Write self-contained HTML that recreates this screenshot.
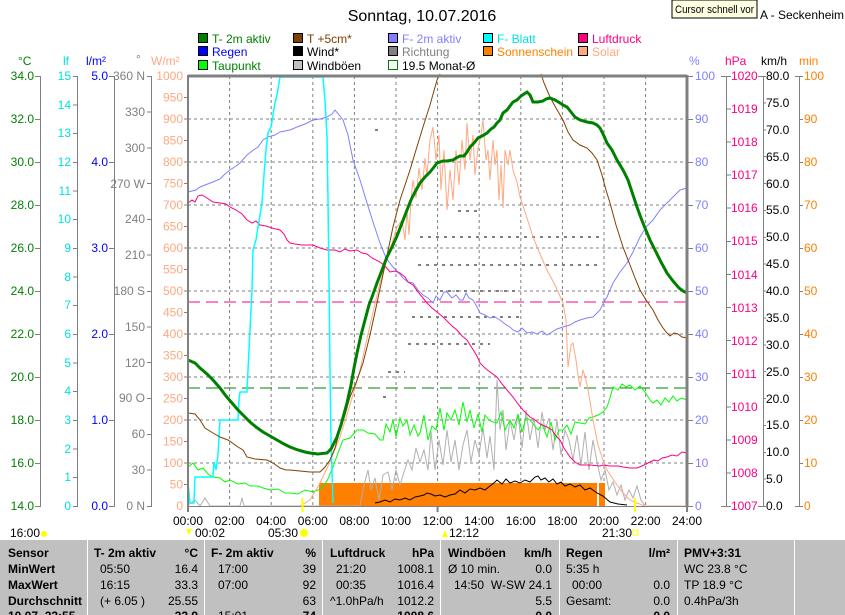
<!DOCTYPE html>
<html><head><meta charset="utf-8"><style>
body{margin:0;background:#fff;width:845px;height:615px;overflow:hidden;font-family:"Liberation Sans",sans-serif}
svg{display:block}
</style></head><body>
<svg width="845" height="615" viewBox="0 0 845 615" font-family="Liberation Sans, sans-serif">
<rect width="845" height="615" fill="#fff"/>
<text x="422" y="21" font-size="16" text-anchor="middle" fill="#000">Sonntag, 10.07.2016</text>
<text x="760" y="19" font-size="12" fill="#000">A - Seckenheim</text>
<rect x="672" y="0" width="85" height="18" fill="#ffffe1" stroke="#000" stroke-width="1"/>
<text x="675" y="13" font-size="11" fill="#000" textLength="79" lengthAdjust="spacingAndGlyphs">Cursor schnell vor</text>

<!-- legend -->
<g font-size="12">
<rect x="198.5" y="33.5" width="9" height="9" fill="#008000" stroke="#000"/><text x="212" y="43" fill="#008000">T- 2m aktiv</text>
<rect x="198.5" y="46.5" width="9" height="9" fill="#0000ff" stroke="#000"/><text x="212" y="56" fill="#0000ff">Regen</text>
<rect x="198.5" y="60.5" width="9" height="9" fill="#00ff00" stroke="#000"/><text x="212" y="70" fill="#008000">Taupunkt</text>
<rect x="293.5" y="33.5" width="9" height="9" fill="#804000" stroke="#000"/><text x="307" y="43" fill="#804000">T +5cm*</text>
<rect x="293.5" y="46.5" width="9" height="9" fill="#000" stroke="#000"/><text x="307" y="56" fill="#000">Wind*</text>
<rect x="293.5" y="60.5" width="9" height="9" fill="#c0c0c0" stroke="#000"/><text x="307" y="70" fill="#000">Windböen</text>
<rect x="388.5" y="33.5" width="9" height="9" fill="#8080ff" stroke="#000"/><text x="402" y="43" fill="#8080ff">F- 2m aktiv</text>
<rect x="388.5" y="46.5" width="9" height="9" fill="#808080" stroke="#000"/><text x="402" y="56" fill="#808080">Richtung</text>
<rect x="388.5" y="60.5" width="9" height="9" fill="#fff" stroke="#008000"/><text x="402" y="70" fill="#000">19.5 Monat-Ø</text>
<rect x="483.5" y="33.5" width="9" height="9" fill="#00ffff" stroke="#000"/><text x="497" y="43" fill="#00e0e0">F- Blatt</text>
<rect x="483.5" y="46.5" width="9" height="9" fill="#ff8000" stroke="#000"/><text x="497" y="56" fill="#ff8000">Sonnenschein</text>
<rect x="578.5" y="33.5" width="9" height="9" fill="#ff0080" stroke="#000"/><text x="592" y="43" fill="#ff0080">Luftdruck</text>
<rect x="578.5" y="46.5" width="9" height="9" fill="#ffa880" stroke="#000"/><text x="592" y="56" fill="#ffa880">Solar</text>
</g>

<!-- axis titles -->
<g font-size="12">
<text x="18" y="65" fill="#008000">°C</text>
<text x="63" y="65" fill="#00e0e0">lf</text>
<text x="86" y="65" fill="#0000ff">l/m²</text>
<text x="136" y="63" fill="#808080">°</text>
<text x="151" y="65" fill="#ffa880">W/m²</text>
<text x="689" y="65" fill="#8080ff">%</text>
<text x="725" y="65" fill="#ff0080">hPa</text>
<text x="761" y="65" fill="#000">km/h</text>
<text x="799" y="65" fill="#ff8000">min</text>
</g>

<!-- grid -->
<g stroke="#808080" stroke-width="1" stroke-dasharray="3,3">
<line x1="229.6" y1="76" x2="229.6" y2="506"/><line x1="271.2" y1="76" x2="271.2" y2="506"/><line x1="312.8" y1="76" x2="312.8" y2="506"/><line x1="354.4" y1="76" x2="354.4" y2="506"/><line x1="396" y1="76" x2="396" y2="506"/><line x1="437.6" y1="76" x2="437.6" y2="506"/><line x1="479.2" y1="76" x2="479.2" y2="506"/><line x1="520.8" y1="76" x2="520.8" y2="506"/><line x1="562.4" y1="76" x2="562.4" y2="506"/><line x1="604" y1="76" x2="604" y2="506"/><line x1="645.6" y1="76" x2="645.6" y2="506"/>
<line x1="188" y1="119" x2="687" y2="119"/><line x1="188" y1="162" x2="687" y2="162"/><line x1="188" y1="205" x2="687" y2="205"/><line x1="188" y1="248" x2="687" y2="248"/><line x1="188" y1="291" x2="687" y2="291"/><line x1="188" y1="334" x2="687" y2="334"/><line x1="188" y1="377" x2="687" y2="377"/><line x1="188" y1="420" x2="687" y2="420"/><line x1="188" y1="463" x2="687" y2="463"/>
</g>

<!-- direction dots -->
<g stroke="#808080" stroke-width="2" stroke-dasharray="3,5">
<line x1="375" y1="130" x2="378" y2="130"/>
<line x1="458" y1="211" x2="480" y2="211"/>
<line x1="420" y1="237" x2="600" y2="237"/>
<line x1="418" y1="265" x2="600" y2="265"/>
<line x1="440" y1="291" x2="520" y2="291"/>
<line x1="412" y1="317" x2="520" y2="317"/>
<line x1="408" y1="344" x2="490" y2="344"/>
<line x1="388" y1="372" x2="405" y2="372"/>
<line x1="383" y1="397" x2="388" y2="397"/>
</g>

<!-- dashed means -->
<line x1="188" y1="302" x2="687" y2="302" stroke="#ff0080" stroke-dasharray="12,6"/>
<line x1="188" y1="388" x2="687" y2="388" stroke="#008000" stroke-dasharray="12,6"/>

<!-- sunshine -->
<rect x="319" y="483" width="278" height="23" fill="#ff8000"/>
<rect x="599" y="483" width="6" height="23" fill="#ff8000"/>

<!-- windböen grey -->
<polyline fill="none" stroke="#b0b0b0" stroke-width="1" points="188,505 195,500 200,506 205,498 210,506 240,506 242,498 244,506 360,506 364,485 368,470 371,490 375,478 379,500 383,475 388,472 392,490 396,470 400,485 404,472 408,460 412,470 416,448 420,462 424,450 428,470 431,432 435,470 439,440 443,465 447,430 451,462 455,440 459,470 463,445 467,430 471,462 475,440 479,455 483,428 487,458 490,436 494,470 497,380 500,430 503,410 506,450 510,420 514,440 518,415 522,448 526,410 530,440 534,418 538,448 542,412 545,430 549,418 553,450 557,420 561,455 565,430 569,440 573,460 577,435 581,465 585,432 589,470 593,440 597,462 601,480 605,470 609,490 613,482 617,495 621,485 625,500 629,490 633,498 637,486 641,500 645,506 687,506"/>

<!-- taupunkt -->
<polyline fill="none" stroke="#00ff00" stroke-width="1" points="188,467 193,463 198,470 203,468 208,474 213,477 220,478 225,482 230,480 238,484 245,483 250,486 258,486 263,488 270,490 278,489 285,493 290,493 298,494 305,490 313,492 318,490 323,487 328,479 333,467 338,453 343,440 350,438 357,430 363,430 368,433 375,434 380,440 383,440 386,424 390,432 393,420 396,437 400,418 403,426 407,420 410,435 414,425 418,436 420,433 424,415 428,440 432,426 436,430 440,408 444,430 447,413 451,420 455,410 459,425 463,402 467,422 470,410 474,428 478,414 482,432 485,415 489,420 493,422 497,423 501,412 505,430 510,420 514,428 518,414 522,432 526,418 530,420 534,425 538,430 542,424 547,437 551,422 555,440 559,430 563,430 567,425 571,434 575,422 580,423 585,424 589,418 593,417 598,415 603,412 607,407 610,398 613,387 618,390 622,384 626,387 630,385 635,390 640,386 645,392 647,395 650,400 653,403 657,400 661,405 665,398 669,402 673,396 677,401 681,398 687,400"/>

<!-- solar -->
<polyline fill="none" stroke="#ffa880" stroke-width="1" points="300,506 310,500 320,483 330,462 340,437 350,405 360,370 370,325 380,283 390,250 397,227 402,220 405,240 407,210 409,235 411,200 413,180 416,198 419,168 422,190 425,158 427,175 430,140 433,127 436,160 439,135 441,190 444,150 447,210 450,170 453,200 456,150 459,185 462,140 465,170 467,123 470,160 473,135 475,175 478,148 481,135 483,120 486,160 488,150 490,180 493,140 495,165 497,150 499,200 501,165 503,208 505,150 508,165 510,150 513,170 517,182 520,197 527,218 533,237 540,254 547,270 555,285 563,303 566,320 568,367 571,345 573,343 576,360 578,375 580,387 583,370 586,380 589,395 593,420 598,445 603,460 607,470 615,482 623,493 630,500 637,503 645,506 687,506"/>

<!-- wind black -->
<polyline fill="none" stroke="#000" stroke-width="1" points="375,503 380,502 385,500 390,502 395,499 400,500 405,498 410,500 415,497 420,496 424,495 427,493 431,494 435,496 440,495 445,497 450,495 455,494 460,490 465,493 470,489 475,490 480,488 485,490 490,486 495,482 497,480 502,484 506,479 510,483 515,481 520,483 525,480 530,482 535,477 538,476 541,480 545,478 549,482 553,479 557,484 561,482 565,486 570,484 575,487 580,485 585,490 590,488 597,493 603,496 610,502 618,504 627,505"/>

<!-- F-2m -->
<polyline fill="none" stroke="#8080ff" stroke-width="1" points="188,192 196,190 200,187 205,185 213,182 220,179 225,174 230,170 236,166 240,163 247,155 252,151 258,147 263,140 268,137 275,135 280,132 290,130 297,127 305,124 313,120 320,119 327,117 332,114 335,110 340,116 343,120 348,135 353,160 360,180 367,203 373,222 380,243 386,258 393,267 398,272 403,278 408,282 413,283 418,290 423,295 428,298 433,303 436,296 440,300 444,292 447,292 452,298 456,295 460,300 463,300 466,293 469,298 473,300 476,305 480,313 485,315 490,318 495,317 500,320 505,324 510,327 513,330 518,332 522,328 527,333 532,332 537,334 542,331 547,335 552,332 557,329 563,327 570,325 575,322 580,320 587,318 593,317 600,310 604,302 607,297 610,290 613,283 620,272 627,263 633,252 640,237 646,227 653,220 660,210 667,203 674,196 680,190 687,188"/>

<!-- luftdruck -->
<polyline fill="none" stroke="#ff0080" stroke-width="1" points="188,203 192,200 195,202 198,196 202,195 207,198 213,202 220,203 226,204 230,207 236,210 242,214 247,220 252,223 256,221 260,225 266,226 272,228 280,230 284,234 287,240 290,243 295,244 302,245 313,245 320,248 327,250 335,250 340,252 345,249 350,251 357,250 362,253 367,254 372,258 380,262 385,266 390,272 395,271 400,273 405,277 408,282 413,285 418,292 423,298 427,303 432,308 437,312 443,317 448,322 452,326 457,330 462,336 467,340 472,348 477,356 480,363 485,368 490,372 497,377 502,384 507,390 513,397 518,404 523,410 530,417 535,420 540,424 547,427 552,430 556,436 560,440 564,448 570,457 575,462 580,465 590,465 600,466 603,465 610,466 618,466 623,467 630,468 637,468 642,466 646,464 650,462 654,460 658,461 662,458 667,457 672,455 677,456 682,452 687,453"/>

<!-- cyan F-Blatt -->
<polyline fill="none" stroke="#00ffff" stroke-width="1.5" points="188,483 190,503 194,503 195,477 213,477 214,462 216,470 218,455 220,420 238,420 239,400 240,392 247,392 248,370 250,330 252,290 253,250 256,240 258,227 260,215 262,203 264,175 266,150 268,133 271,127 273,115 275,103 277,95 280,77 323,77 325,100 327,137 328,200 329,280 330,370 331,440 333,503"/>

<!-- T+5cm brown -->
<polyline fill="none" stroke="#804000" stroke-width="1" points="188,413 195,414 200,420 205,428 213,433 220,437 228,440 238,447 243,450 247,457 255,459 267,460 273,463 280,468 286,470 290,470 300,471 310,472 320,472 325,467 330,460 335,448 340,430 345,415 350,397 356,383 363,363 370,335 377,303 385,265 393,227 400,200 405,185 410,170 416,150 423,127 430,105 437,80 440,74"/>
<polyline fill="none" stroke="#804000" stroke-width="1" points="541,74 544,83 550,97 556,108 563,120 568,132 573,140 580,145 587,148 592,153 597,160 602,175 606,190 610,203 616,225 623,247 630,265 635,278 640,290 646,300 653,310 658,320 663,328 667,333 670,336 674,333 678,334 682,337 687,338"/>

<!-- T-2m dark green -->
<polyline fill="none" stroke="#008000" stroke-width="3" points="188,360 195,363 200,368 207,374 213,380 220,388 226,396 232,403 238,410 244,416 250,422 256,427 263,432 270,436 277,440 284,444 290,447 298,450 305,452 310,453 318,454 327,453 331,449 334,443 337,437 341,425 344,414 347,403 351,385 354,368 357,353 361,335 365,320 369,305 372,297 377,283 382,270 387,257 392,247 397,236 402,223 407,210 411,200 415,192 420,183 425,177 430,172 434,167 437,163 443,161 447,161 453,160 456,158 460,156 464,156 467,152 470,147 474,143 478,138 482,136 487,133 491,129 494,127 497,123 500,120 503,113 507,110 510,106 513,102 517,100 521,96 524,94 527,92 530,95 533,102 538,102 543,101 546,99 550,98 555,100 560,103 563,105 567,107 571,112 575,117 580,120 587,122 593,123 597,125 600,128 604,136 607,143 612,150 617,160 623,170 628,180 633,195 637,207 641,218 645,228 650,240 656,252 661,262 667,273 673,281 679,288 683,291 687,293"/>

<!-- plot frame -->
<line x1="188" y1="76" x2="687" y2="76" stroke="#808080" stroke-width="3"/>
<line x1="188" y1="75" x2="188" y2="507" stroke="#808080" stroke-width="2"/>
<line x1="687" y1="75" x2="687" y2="507" stroke="#808080" stroke-width="3"/>
<line x1="188" y1="506.5" x2="687" y2="506.5" stroke="#808080" stroke-width="1"/>

<!-- axis lines -->
<g stroke="#808080" stroke-width="1">
<line x1="40.5" y1="76" x2="40.5" y2="506"/>
<line x1="77.5" y1="76" x2="77.5" y2="506"/>
<line x1="114.5" y1="76" x2="114.5" y2="506"/>
<line x1="151.5" y1="76" x2="151.5" y2="506"/>
<line x1="726.5" y1="76" x2="726.5" y2="506"/>
<line x1="763.5" y1="76" x2="763.5" y2="506"/>
<line x1="799.5" y1="76" x2="799.5" y2="506"/>
</g>

<!-- °C -->
<g font-size="12" fill="#008000" text-anchor="end">
<text x="34" y="80">34.0</text><text x="34" y="123">32.0</text><text x="34" y="166">30.0</text><text x="34" y="209">28.0</text><text x="34" y="252">26.0</text><text x="34" y="295">24.0</text><text x="34" y="338">22.0</text><text x="34" y="381">20.0</text><text x="34" y="424">18.0</text><text x="34" y="467">16.0</text><text x="34" y="510">14.0</text>
</g>
<g stroke="#808080"><line x1="35" y1="76.5" x2="41" y2="76.5"/><line x1="35" y1="119.5" x2="41" y2="119.5"/><line x1="35" y1="162.5" x2="41" y2="162.5"/><line x1="35" y1="205.5" x2="41" y2="205.5"/><line x1="35" y1="248.5" x2="41" y2="248.5"/><line x1="35" y1="291.5" x2="41" y2="291.5"/><line x1="35" y1="334.5" x2="41" y2="334.5"/><line x1="35" y1="377.5" x2="41" y2="377.5"/><line x1="35" y1="420.5" x2="41" y2="420.5"/><line x1="35" y1="463.5" x2="41" y2="463.5"/><line x1="35" y1="506.5" x2="41" y2="506.5"/></g>

<!-- lf -->
<g font-size="12" fill="#00e0e0" text-anchor="end">
<text x="71" y="80">15</text><text x="71" y="109">14</text><text x="71" y="137">13</text><text x="71" y="166">12</text><text x="71" y="195">11</text><text x="71" y="223">10</text><text x="71" y="252">9</text><text x="71" y="281">8</text><text x="71" y="309">7</text><text x="71" y="338">6</text><text x="71" y="367">5</text><text x="71" y="395">4</text><text x="71" y="424">3</text><text x="71" y="453">2</text><text x="71" y="481">1</text><text x="71" y="510">0</text>
</g>
<g stroke="#808080"><line x1="73" y1="76.5" x2="78" y2="76.5"/><line x1="73" y1="105" x2="78" y2="105"/><line x1="73" y1="133.5" x2="78" y2="133.5"/><line x1="73" y1="162.5" x2="78" y2="162.5"/><line x1="73" y1="191" x2="78" y2="191"/><line x1="73" y1="219.5" x2="78" y2="219.5"/><line x1="73" y1="248.5" x2="78" y2="248.5"/><line x1="73" y1="277" x2="78" y2="277"/><line x1="73" y1="305.5" x2="78" y2="305.5"/><line x1="73" y1="334.5" x2="78" y2="334.5"/><line x1="73" y1="363" x2="78" y2="363"/><line x1="73" y1="391.5" x2="78" y2="391.5"/><line x1="73" y1="420.5" x2="78" y2="420.5"/><line x1="73" y1="449" x2="78" y2="449"/><line x1="73" y1="477.5" x2="78" y2="477.5"/><line x1="73" y1="506.5" x2="78" y2="506.5"/></g>

<!-- l/m2 -->
<g font-size="12" fill="#0000ff" text-anchor="end">
<text x="108" y="80">5.0</text><text x="108" y="166">4.0</text><text x="108" y="252">3.0</text><text x="108" y="338">2.0</text><text x="108" y="424">1.0</text><text x="108" y="510">0.0</text>
</g>
<g stroke="#808080"><line x1="109" y1="76.5" x2="115" y2="76.5"/><line x1="109" y1="162.5" x2="115" y2="162.5"/><line x1="109" y1="248.5" x2="115" y2="248.5"/><line x1="109" y1="334.5" x2="115" y2="334.5"/><line x1="109" y1="420.5" x2="115" y2="420.5"/><line x1="109" y1="506.5" x2="115" y2="506.5"/></g>

<!-- degrees -->
<g font-size="12" fill="#808080" text-anchor="end">
<text x="145" y="80">360 N</text><text x="145" y="116">330</text><text x="145" y="152">300</text><text x="145" y="188">270 W</text><text x="145" y="223">240</text><text x="145" y="259">210</text><text x="145" y="295">180 S</text><text x="145" y="331">150</text><text x="145" y="367">120</text><text x="145" y="402">90 O</text><text x="145" y="438">60</text><text x="145" y="474">30</text><text x="145" y="510">0 N</text>
</g>
<g stroke="#808080"><line x1="147" y1="76.5" x2="152" y2="76.5"/><line x1="147" y1="112" x2="152" y2="112"/><line x1="147" y1="148" x2="152" y2="148"/><line x1="147" y1="183.5" x2="152" y2="183.5"/><line x1="147" y1="219.5" x2="152" y2="219.5"/><line x1="147" y1="255" x2="152" y2="255"/><line x1="147" y1="291.5" x2="152" y2="291.5"/><line x1="147" y1="327" x2="152" y2="327"/><line x1="147" y1="362.5" x2="152" y2="362.5"/><line x1="147" y1="398.5" x2="152" y2="398.5"/><line x1="147" y1="434.5" x2="152" y2="434.5"/><line x1="147" y1="470" x2="152" y2="470"/><line x1="147" y1="506.5" x2="152" y2="506.5"/></g>

<!-- W/m2 -->
<g font-size="12" fill="#ffa880" text-anchor="end">
<text x="183" y="80">1000</text><text x="183" y="101.5">950</text><text x="183" y="123">900</text><text x="183" y="144.5">850</text><text x="183" y="166">800</text><text x="183" y="187.5">750</text><text x="183" y="209">700</text><text x="183" y="230.5">650</text><text x="183" y="252">600</text><text x="183" y="273.5">550</text><text x="183" y="295">500</text><text x="183" y="316.5">450</text><text x="183" y="338">400</text><text x="183" y="359.5">350</text><text x="183" y="381">300</text><text x="183" y="402.5">250</text><text x="183" y="424">200</text><text x="183" y="445.5">150</text><text x="183" y="467">100</text><text x="183" y="488.5">50</text><text x="183" y="510">0</text>
</g>
<g stroke="#808080"><line x1="184" y1="97.5" x2="188" y2="97.5"/><line x1="184" y1="119" x2="188" y2="119"/><line x1="184" y1="140.5" x2="188" y2="140.5"/><line x1="184" y1="162" x2="188" y2="162"/><line x1="184" y1="183.5" x2="188" y2="183.5"/><line x1="184" y1="205" x2="188" y2="205"/><line x1="184" y1="226.5" x2="188" y2="226.5"/><line x1="184" y1="248" x2="188" y2="248"/><line x1="184" y1="269.5" x2="188" y2="269.5"/><line x1="184" y1="291" x2="188" y2="291"/><line x1="184" y1="312.5" x2="188" y2="312.5"/><line x1="184" y1="334" x2="188" y2="334"/><line x1="184" y1="355.5" x2="188" y2="355.5"/><line x1="184" y1="377" x2="188" y2="377"/><line x1="184" y1="398.5" x2="188" y2="398.5"/><line x1="184" y1="420" x2="188" y2="420"/><line x1="184" y1="441.5" x2="188" y2="441.5"/><line x1="184" y1="463" x2="188" y2="463"/><line x1="184" y1="484.5" x2="188" y2="484.5"/></g>

<!-- % -->
<g font-size="12" fill="#8080ff">
<text x="695" y="80">100</text><text x="695" y="123">90</text><text x="695" y="166">80</text><text x="695" y="209">70</text><text x="695" y="252">60</text><text x="695" y="295">50</text><text x="695" y="338">40</text><text x="695" y="381">30</text><text x="695" y="424">20</text><text x="695" y="467">10</text><text x="695" y="510">0</text>
</g>
<g stroke="#808080"><line x1="687" y1="119.5" x2="693" y2="119.5"/><line x1="687" y1="162.5" x2="693" y2="162.5"/><line x1="687" y1="205.5" x2="693" y2="205.5"/><line x1="687" y1="248.5" x2="693" y2="248.5"/><line x1="687" y1="291.5" x2="693" y2="291.5"/><line x1="687" y1="334.5" x2="693" y2="334.5"/><line x1="687" y1="377.5" x2="693" y2="377.5"/><line x1="687" y1="420.5" x2="693" y2="420.5"/><line x1="687" y1="463.5" x2="693" y2="463.5"/><line x1="687" y1="76.5" x2="693" y2="76.5"/><line x1="687" y1="506.5" x2="693" y2="506.5"/></g>

<!-- hPa -->
<g font-size="12" fill="#ff0080">
<text x="731" y="80">1020</text><text x="731" y="113">1019</text><text x="731" y="146">1018</text><text x="731" y="179">1017</text><text x="731" y="212">1016</text><text x="731" y="245">1015</text><text x="731" y="279">1014</text><text x="731" y="312">1013</text><text x="731" y="345">1012</text><text x="731" y="378">1011</text><text x="731" y="411">1010</text><text x="731" y="444">1009</text><text x="731" y="477">1008</text><text x="731" y="510">1007</text>
</g>
<g stroke="#808080"><line x1="721" y1="76.5" x2="731" y2="76.5"/><line x1="726" y1="109" x2="731" y2="109"/><line x1="726" y1="142" x2="731" y2="142"/><line x1="726" y1="175" x2="731" y2="175"/><line x1="726" y1="208" x2="731" y2="208"/><line x1="726" y1="241.5" x2="731" y2="241.5"/><line x1="726" y1="274.5" x2="731" y2="274.5"/><line x1="726" y1="307.5" x2="731" y2="307.5"/><line x1="726" y1="340.5" x2="731" y2="340.5"/><line x1="726" y1="373.5" x2="731" y2="373.5"/><line x1="726" y1="407" x2="731" y2="407"/><line x1="726" y1="440" x2="731" y2="440"/><line x1="726" y1="473" x2="731" y2="473"/><line x1="721" y1="506.5" x2="731" y2="506.5"/></g>

<!-- km/h -->
<g font-size="12" fill="#000">
<text x="766" y="80">80.0</text><text x="766" y="107">75.0</text><text x="766" y="134">70.0</text><text x="766" y="161">65.0</text><text x="766" y="188">60.0</text><text x="766" y="214">55.0</text><text x="766" y="241">50.0</text><text x="766" y="268">45.0</text><text x="766" y="295">40.0</text><text x="766" y="322">35.0</text><text x="766" y="349">30.0</text><text x="766" y="376">25.0</text><text x="766" y="403">20.0</text><text x="766" y="429">15.0</text><text x="766" y="456">10.0</text><text x="766" y="483">5.0</text><text x="766" y="510">0.0</text>
</g>
<g stroke="#808080"><line x1="758" y1="76.5" x2="766" y2="76.5"/><line x1="763" y1="103" x2="766" y2="103"/><line x1="763" y1="130" x2="766" y2="130"/><line x1="763" y1="156.5" x2="766" y2="156.5"/><line x1="763" y1="183.5" x2="766" y2="183.5"/><line x1="763" y1="210.5" x2="766" y2="210.5"/><line x1="763" y1="237.5" x2="766" y2="237.5"/><line x1="763" y1="264" x2="766" y2="264"/><line x1="763" y1="291" x2="766" y2="291"/><line x1="763" y1="318" x2="766" y2="318"/><line x1="763" y1="345" x2="766" y2="345"/><line x1="763" y1="371.5" x2="766" y2="371.5"/><line x1="763" y1="398.5" x2="766" y2="398.5"/><line x1="763" y1="425.5" x2="766" y2="425.5"/><line x1="763" y1="452.5" x2="766" y2="452.5"/><line x1="763" y1="479" x2="766" y2="479"/><line x1="758" y1="506.5" x2="766" y2="506.5"/></g>

<!-- min -->
<g font-size="12" fill="#ff8000">
<text x="804" y="80">100</text><text x="804" y="123">90</text><text x="804" y="166">80</text><text x="804" y="209">70</text><text x="804" y="252">60</text><text x="804" y="295">50</text><text x="804" y="338">40</text><text x="804" y="381">30</text><text x="804" y="424">20</text><text x="804" y="467">10</text><text x="804" y="510">0</text>
</g>
<g stroke="#808080"><line x1="795" y1="76.5" x2="803" y2="76.5"/><line x1="799" y1="119.5" x2="803" y2="119.5"/><line x1="799" y1="162.5" x2="803" y2="162.5"/><line x1="799" y1="205.5" x2="803" y2="205.5"/><line x1="799" y1="248.5" x2="803" y2="248.5"/><line x1="799" y1="291.5" x2="803" y2="291.5"/><line x1="799" y1="334.5" x2="803" y2="334.5"/><line x1="799" y1="377.5" x2="803" y2="377.5"/><line x1="799" y1="420.5" x2="803" y2="420.5"/><line x1="799" y1="463.5" x2="803" y2="463.5"/><line x1="795" y1="506.5" x2="803" y2="506.5"/></g>

<!-- x ticks -->
<g stroke="#808080" stroke-width="2"><line x1="188" y1="506" x2="188" y2="512"/><line x1="437.6" y1="506" x2="437.6" y2="512"/><line x1="687" y1="506" x2="687" y2="512"/></g>
<g stroke="#ffff00" stroke-width="2"><line x1="302.5" y1="498" x2="302.5" y2="512"/><line x1="635" y1="498" x2="635" y2="512"/></g>
<g font-size="12" fill="#000" text-anchor="middle">
<text x="188" y="525">00:00</text><text x="229.6" y="525">02:00</text><text x="271.2" y="525">04:00</text><text x="312.8" y="525">06:00</text><text x="354.4" y="525">08:00</text><text x="396" y="525">10:00</text><text x="437.6" y="525">12:00</text><text x="479.2" y="525">14:00</text><text x="520.8" y="525">16:00</text><text x="562.4" y="525">18:00</text><text x="604" y="525">20:00</text><text x="645.6" y="525">22:00</text><text x="687" y="525">24:00</text>
</g>
<g font-size="12" fill="#000">
<text x="10" y="537">16:00</text><circle cx="44" cy="534" r="3" fill="#ffff00"/>
<text x="195" y="537">00:02</text><path d="M186 529 L192 529 L189 535 Z" fill="#ffff00"/>
<text x="268" y="537">05:30</text><circle cx="304" cy="533" r="4" fill="#ffff00"/>
<text x="449" y="537">12:12</text><path d="M442 537 L448 537 L445 530 Z" fill="#ffff00"/>
<text x="602" y="537">21:30</text><rect x="633" y="530" width="5" height="5" fill="none" stroke="#ffff00"/>
</g>

<!-- table -->
<rect x="0" y="540" width="845" height="75" fill="#c0c0c0"/>
<g stroke="#fff" stroke-width="1"><line x1="87.5" y1="540" x2="87.5" y2="615"/><line x1="204.5" y1="540" x2="204.5" y2="615"/><line x1="322.5" y1="540" x2="322.5" y2="615"/><line x1="440.5" y1="540" x2="440.5" y2="615"/><line x1="559.5" y1="540" x2="559.5" y2="615"/><line x1="677.5" y1="540" x2="677.5" y2="615"/><line x1="794.5" y1="540" x2="794.5" y2="615"/></g>
<g font-size="12" fill="#000">
<g font-weight="bold">
<text x="8" y="557">Sensor</text><text x="8" y="573">MinWert</text><text x="8" y="589">MaxWert</text><text x="8" y="605">Durchschnitt</text><text x="8" y="620">10.07. 22:55</text>
<text x="94" y="557">T- 2m aktiv</text><text x="198" y="557" text-anchor="end">°C</text>
<text x="211" y="557">F- 2m aktiv</text><text x="316" y="557" text-anchor="end">%</text>
<text x="330" y="557">Luftdruck</text><text x="434" y="557" text-anchor="end">hPa</text>
<text x="448" y="557">Windböen</text><text x="552" y="557" text-anchor="end">km/h</text>
<text x="566" y="557">Regen</text><text x="670" y="557" text-anchor="end">l/m²</text>
<text x="684" y="557">PMV+3:31</text>
<text x="198" y="620" text-anchor="end">22.9</text><text x="316" y="620" text-anchor="end">74</text><text x="434" y="620" text-anchor="end">1008.6</text><text x="552" y="620" text-anchor="end">0.0</text><text x="670" y="620" text-anchor="end">0.0</text>
</g>
<text x="100" y="573">05:50</text><text x="198" y="573" text-anchor="end">16.4</text>
<text x="100" y="589">16:15</text><text x="198" y="589" text-anchor="end">33.3</text>
<text x="100" y="605">(+ 6.05 )</text><text x="198" y="605" text-anchor="end">25.55</text>
<text x="218" y="573">17:00</text><text x="316" y="573" text-anchor="end">39</text>
<text x="218" y="589">07:00</text><text x="316" y="589" text-anchor="end">92</text>
<text x="316" y="605" text-anchor="end">63</text>
<text x="218" y="620">15:01 ...</text>
<text x="336" y="573">21:20</text><text x="434" y="573" text-anchor="end">1008.1</text>
<text x="336" y="589">00:35</text><text x="434" y="589" text-anchor="end">1016.4</text>
<text x="330" y="605">^1.0hPa/h</text><text x="434" y="605" text-anchor="end">1012.2</text>
<text x="448" y="573">Ø 10 min.</text><text x="552" y="573" text-anchor="end">0.0</text>
<text x="454" y="589">14:50</text><text x="552" y="589" text-anchor="end">W-SW 24.1</text>
<text x="552" y="605" text-anchor="end">5.5</text>
<text x="566" y="573">5:35 h</text>
<text x="572" y="589">00:00</text><text x="670" y="589" text-anchor="end">0.0</text>
<text x="566" y="605">Gesamt:</text><text x="670" y="605" text-anchor="end">0.0</text>
<text x="684" y="573">WC 23.8 °C</text>
<text x="684" y="589">TP 18.9 °C</text>
<text x="684" y="605">0.4hPa/3h</text>
</g>
</svg>
</body></html>
